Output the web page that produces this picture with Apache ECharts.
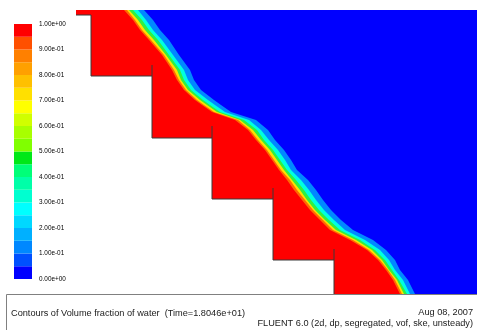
<!DOCTYPE html>
<html>
<head>
<meta charset="utf-8">
<script src="https://cdn.jsdelivr.net/npm/echarts@6/dist/echarts.min.js"></script>
<style>
  html, body { margin: 0; padding: 0; background: #ffffff; }
  #chart { width: 477px; height: 330px; }
</style>
</head>
<body>
<div id="chart"></div>
<script>
// Elevations (model units, 0 = chute toe) at which the contour lines are sampled
const rowY = [284, 274, 264, 254, 239, 224, 214, 204, 194, 189, 182, 174, 164, 154, 144,
              134, 124, 114, 104, 94, 84, 74, 64, 54, 44, 34, 24, 14, 0];

// Horizontal position of each volume-fraction contour along rowY
const x05 = [68, 77, 84, 93, 103, 114, 118, 125, 138, 145, 155, 180, 192, 199, 208,
             215, 221, 232, 240, 247, 255, 265, 277, 297, 310, 319, 324, 332, 339];
const x25 = [62, 70, 77, 86, 97, 108, 112, 119, 132, 139, 149, 173, 185, 193, 202,
             209, 215, 225, 233, 240, 248, 258, 269, 289, 304, 313, 319, 327, 334];
const x45 = [57, 66, 73, 82, 93, 104, 108, 115, 127, 134, 144, 168, 181, 188, 197,
             204, 211, 220, 228, 235, 243, 253, 264, 284, 299, 309, 316, 323, 331];
const x65 = [53, 62, 69, 78, 90, 101, 105, 112, 124, 131, 141, 164, 177, 185, 194,
             201, 208, 216, 224, 231, 239, 249, 260, 280, 296, 306, 313, 321, 328];
const x85 = [51, 59, 66, 75, 88, 98, 103, 110, 121, 128, 138, 162, 174, 182, 191,
             198, 205, 214, 221, 229, 237, 247, 257, 277, 293, 304, 312, 319, 326];
const x95 = [48, 57, 64, 73, 86, 96, 101, 108, 119, 126, 136, 159, 172, 180, 189,
             196, 203, 211, 218, 226, 234, 244, 254, 274, 291, 302, 310, 317, 324];

// Stepped chute: riser positions, top of each riser (lip) and the tread below it
const riserX = [15, 76, 136, 197, 258];
const riserTop = [279, 229, 168, 106, 45];
const treadY = [218, 156, 95, 34, 0];
const inletY = 279;
const domainTop = 284;
const domainRight = 401;

// Colour scale
const scaleTicks = [0, 0.1, 0.2, 0.3, 0.4, 0.5, 0.6, 0.7, 0.8, 0.9, 1.0];
const tickLabels = ['0.00e+00', '1.00e-01', '2.00e-01', '3.00e-01', '4.00e-01', '5.00e-01',
                    '6.00e-01', '7.00e-01', '8.00e-01', '9.00e-01', '1.00e+00'];
const bandStep = 0.05;

const scaleColors = [
  '#0000ff', '#0050ff', '#0088ff', '#00b0ff', '#00d8ff',
  '#00ffff', '#00ffd0', '#00ffa8', '#00ff78', '#00e818',
  '#80ff00', '#a8ff00', '#d0ff00', '#ffff00', '#ffe000',
  '#ffc000', '#ffa000', '#ff8000', '#ff5000', '#ff0000'
];

const levelCurves = [x05, x25, x45, x65, x85, x95];
const levelColors = ['#0088ff', '#00ffe0', '#30f040', '#ffe000', '#ff6a00', '#ff0000'];
const airColor = '#0000ff';

// Wall outline from the toe back up to the inlet (closes the filled regions)
function wallOutline() {
  const pts = [];
  for (let k = riserX.length - 1; k >= 0; k--) {
    pts.push([riserX[k], treadY[k]]);
    pts.push([riserX[k], k > 0 ? treadY[k - 1] : inletY]);
  }
  pts.push([0, inletY]);
  pts.push([0, domainTop]);
  return pts;
}
const wallPts = wallOutline();

// Polyline segments of the solid wall drawn over the field
function wallLines() {
  const segs = [];
  for (let k = 0; k < riserX.length; k++) {
    const seg = k === 0 ? [[0, inletY]] : [];
    seg.push([riserX[k], riserTop[k]]);
    seg.push([riserX[k], treadY[k]]);
    if (k < riserX.length - 1) seg.push([riserX[k + 1], treadY[k]]);
    segs.push({ coords: seg });
  }
  return segs;
}

const font = "'Liberation Sans', Arial, sans-serif";
const chart = echarts.init(document.getElementById('chart'), null, { renderer: 'canvas' });

chart.setOption({
  animation: false,
  backgroundColor: '#ffffff',
  grid: [
    { left: 76, top: 10, width: 401, height: 284 },
    { left: 14, top: 24, width: 18, height: 255 }
  ],
  xAxis: [
    { type: 'value', gridIndex: 0, min: 0, max: domainRight, show: false },
    { type: 'value', gridIndex: 1, min: 0, max: 1, show: false }
  ],
  yAxis: [
    { type: 'value', gridIndex: 0, min: 0, max: domainTop, show: false },
    {
      type: 'value', gridIndex: 1, min: 0, max: 1, interval: 0.1, position: 'right',
      axisLine: { show: false }, axisTick: { show: false }, splitLine: { show: false },
      axisLabel: {
        show: true, margin: 7, color: '#000000', fontFamily: font, fontSize: 6.4,
        padding: [0, 0, 4, 0],
        formatter: function (v) { return tickLabels[Math.round(v * 10)]; }
      }
    }
  ],
  series: [
    {
      // air above the flow
      type: 'custom', xAxisIndex: 0, yAxisIndex: 0, clip: true, silent: true,
      data: [[0, 0]],
      renderItem: function (params, api) {
        const pts = [[0, domainTop], [domainRight, domainTop], [domainRight, 0]].concat(wallPts)
          .map(p => api.coord(p));
        return { type: 'polygon', shape: { points: pts }, style: { fill: airColor } };
      }
    },
    {
      // water volume-fraction levels, lowest first
      type: 'custom', xAxisIndex: 0, yAxisIndex: 0, clip: true, silent: true,
      data: levelCurves.map((c, i) => [i, 0]),
      renderItem: function (params, api) {
        const xs = levelCurves[params.dataIndex];
        const pts = [];
        for (let i = 0; i < rowY.length; i++) pts.push(api.coord([xs[i], rowY[i]]));
        wallPts.forEach(p => pts.push(api.coord(p)));
        return { type: 'polygon', shape: { points: pts },
                 style: { fill: levelColors[params.dataIndex] } };
      }
    },
    {
      type: 'lines', coordinateSystem: 'cartesian2d', xAxisIndex: 0, yAxisIndex: 0,
      polyline: true, silent: true,
      lineStyle: { color: '#3a3a3a', width: 1, opacity: 1 },
      data: wallLines()
    },
    {
      // colour scale
      type: 'custom', xAxisIndex: 1, yAxisIndex: 1, silent: true,
      data: scaleColors.map((c, i) => [0, i * bandStep]),
      renderItem: function (params, api) {
        const i = params.dataIndex;
        const p0 = api.coord([0, (i + 1) * bandStep]);
        const p1 = api.coord([1, i * bandStep]);
        return { type: 'rect',
                 shape: { x: p0[0], y: p0[1], width: p1[0] - p0[0], height: p1[1] - p0[1] },
                 style: { fill: scaleColors[i] } };
      }
    }
  ],
  graphic: [
    { type: 'rect', shape: { x: 6.5, y: 294.5, width: 480, height: 40 },
      style: { fill: '#ffffff', stroke: '#808080', lineWidth: 1 }, z: 10 },
    { type: 'text', x: 11, y: 313, z: 11,
      style: { text: 'Contours of Volume fraction of water  (Time=1.8046e+01)',
               font: '9.2px ' + font, fill: '#1a1a1a', verticalAlign: 'middle' } },
    { type: 'text', x: 473, y: 312, z: 11,
      style: { text: 'Aug 08, 2007', font: '9.2px ' + font, fill: '#1a1a1a',
               align: 'right', verticalAlign: 'middle' } },
    { type: 'text', x: 473, y: 323, z: 11,
      style: { text: 'FLUENT 6.0 (2d, dp, segregated, vof, ske, unsteady)', font: '9.2px ' + font,
               fill: '#1a1a1a', align: 'right', verticalAlign: 'middle' } }
  ]
});
</script>
</body>
</html>
